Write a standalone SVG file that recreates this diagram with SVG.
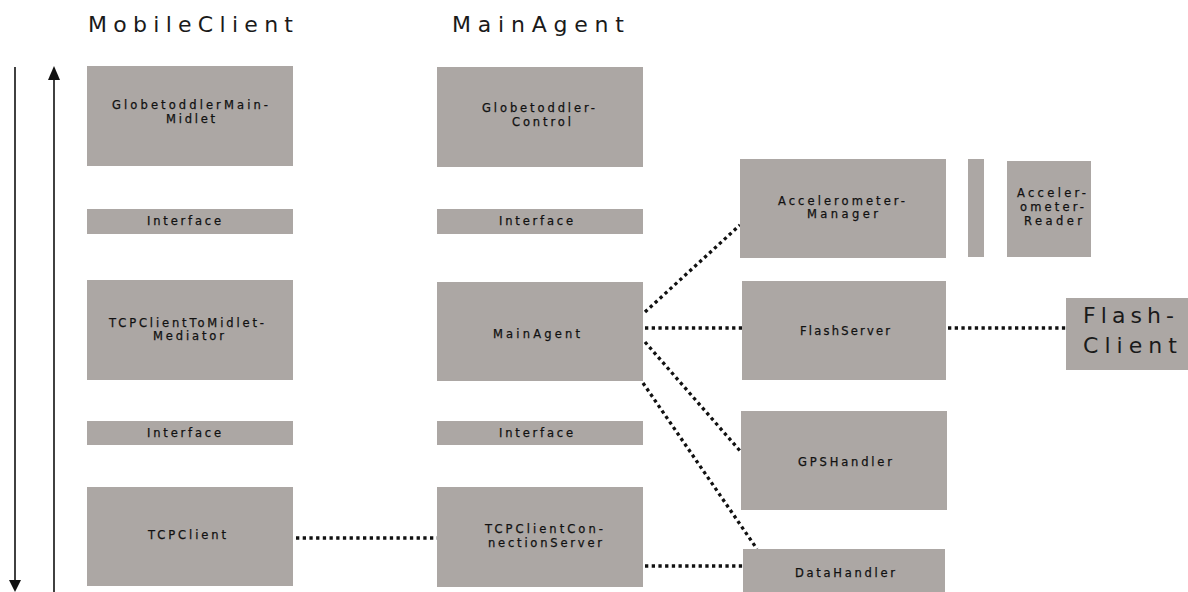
<svg xmlns="http://www.w3.org/2000/svg" width="1188" height="592" viewBox="0 0 1188 592">
<style>
.box{fill:#aca7a4}
.lbl{font-family:"DejaVu Sans","Liberation Sans",sans-serif;font-size:11.5px;fill:#111;stroke:#111;stroke-width:0.25}
.ttl{font-family:"DejaVu Sans","Liberation Sans",sans-serif;font-size:22px;fill:#1a1a1a}
.big{font-family:"DejaVu Sans","Liberation Sans",sans-serif;font-size:22px;fill:#1a1a1a}
.dot{stroke:#111;stroke-width:3.3;stroke-dasharray:3.3 3.4;fill:none}
.ax{stroke:#111;stroke-width:1.6;fill:none}
</style>
<rect width="1188" height="592" fill="#fff"/>
<g id="titles">
<text class="ttl" x="88" y="32" textLength="205" lengthAdjust="spacing">MobileClient</text>
<text class="ttl" x="452" y="32" textLength="172" lengthAdjust="spacing">MainAgent</text>
</g>
<g id="time-axis">
<line class="ax" x1="15" y1="67" x2="15" y2="582"/>
<path d="M9 580 L21 580 L15 592 Z" fill="#111"/>
<line class="ax" x1="54" y1="592" x2="54" y2="78"/>
<path d="M48 80 L60 80 L54 66 Z" fill="#111"/>
</g>
<g id="connectors">
<line class="dot" x1="296" y1="538" x2="437" y2="538"/>
<line class="dot" x1="645" y1="566" x2="743" y2="566"/>
<line class="dot" x1="645" y1="312" x2="740" y2="225"/>
<line class="dot" x1="645" y1="328" x2="742" y2="328"/>
<line class="dot" x1="645" y1="342" x2="741" y2="452"/>
<line class="dot" x1="643" y1="383" x2="757" y2="549"/>
<line class="dot" x1="948" y1="328" x2="1066" y2="328"/>
</g>
<g id="GlobetoddlerMainMidlet">
<rect class="box" x="87" y="66" width="206" height="100"/>
<text class="lbl" x="112" y="109" textLength="156" lengthAdjust="spacing">GlobetoddlerMain-</text>
<text class="lbl" x="166" y="123" textLength="49" lengthAdjust="spacing">Midlet</text>
</g>
<g id="Interface1">
<rect class="box" x="87" y="209" width="206" height="25"/>
<text class="lbl" x="147" y="225" textLength="74" lengthAdjust="spacing">Interface</text>
</g>
<g id="TCPClientToMidletMediator">
<rect class="box" x="87" y="280" width="206" height="100"/>
<text class="lbl" x="109" y="327" textLength="155" lengthAdjust="spacing">TCPClientToMidlet-</text>
<text class="lbl" x="153" y="340" textLength="71" lengthAdjust="spacing">Mediator</text>
</g>
<g id="Interface2">
<rect class="box" x="87" y="421" width="206" height="24"/>
<text class="lbl" x="147" y="437" textLength="74" lengthAdjust="spacing">Interface</text>
</g>
<g id="TCPClient">
<rect class="box" x="87" y="487" width="206" height="99"/>
<text class="lbl" x="148" y="539" textLength="78" lengthAdjust="spacing">TCPClient</text>
</g>
<g id="GlobetoddlerControl">
<rect class="box" x="437" y="67" width="206" height="100"/>
<text class="lbl" x="482" y="112" textLength="113" lengthAdjust="spacing">Globetoddler-</text>
<text class="lbl" x="512" y="126" textLength="59" lengthAdjust="spacing">Control</text>
</g>
<g id="Interface3">
<rect class="box" x="437" y="209" width="206" height="25"/>
<text class="lbl" x="499" y="225" textLength="74" lengthAdjust="spacing">Interface</text>
</g>
<g id="MainAgent">
<rect class="box" x="437" y="282" width="206" height="99"/>
<text class="lbl" x="493" y="338" textLength="87" lengthAdjust="spacing">MainAgent</text>
</g>
<g id="Interface4">
<rect class="box" x="437" y="421" width="206" height="24"/>
<text class="lbl" x="499" y="437" textLength="74" lengthAdjust="spacing">Interface</text>
</g>
<g id="TCPClientConnectionServer">
<rect class="box" x="437" y="487" width="206" height="100"/>
<text class="lbl" x="485" y="533" textLength="118" lengthAdjust="spacing">TCPClientCon-</text>
<text class="lbl" x="488" y="547" textLength="114" lengthAdjust="spacing">nectionServer</text>
</g>
<g id="AccelerometerManager">
<rect class="box" x="740" y="159" width="206" height="99"/>
<text class="lbl" x="778" y="205" textLength="127" lengthAdjust="spacing">Accelerometer-</text>
<text class="lbl" x="807" y="218" textLength="71" lengthAdjust="spacing">Manager</text>
</g>
<g id="Bar">
<rect class="box" x="968" y="159" width="16" height="98"/>
</g>
<g id="AccelerometerReader">
<rect class="box" x="1007" y="161" width="84" height="96"/>
<text class="lbl" x="1017" y="197" textLength="69" lengthAdjust="spacing">Acceler-</text>
<text class="lbl" x="1020" y="211" textLength="64" lengthAdjust="spacing">ometer-</text>
<text class="lbl" x="1024" y="225" textLength="58" lengthAdjust="spacing">Reader</text>
</g>
<g id="FlashServer">
<rect class="box" x="742" y="281" width="204" height="99"/>
<text class="lbl" x="800" y="335" textLength="90" lengthAdjust="spacing">FlashServer</text>
</g>
<g id="FlashClient">
<rect class="box" x="1066" y="298" width="122" height="72"/>
<text class="big" x="1083" y="323" textLength="91" lengthAdjust="spacing">Flash-</text>
<text class="big" x="1083" y="353" textLength="94" lengthAdjust="spacing">Client</text>
</g>
<g id="GPSHandler">
<rect class="box" x="741" y="411" width="206" height="99"/>
<text class="lbl" x="798" y="466" textLength="94" lengthAdjust="spacing">GPSHandler</text>
</g>
<g id="DataHandler">
<rect class="box" x="743" y="549" width="202" height="43"/>
<text class="lbl" x="795" y="577" textLength="100" lengthAdjust="spacing">DataHandler</text>
</g>
</svg>
